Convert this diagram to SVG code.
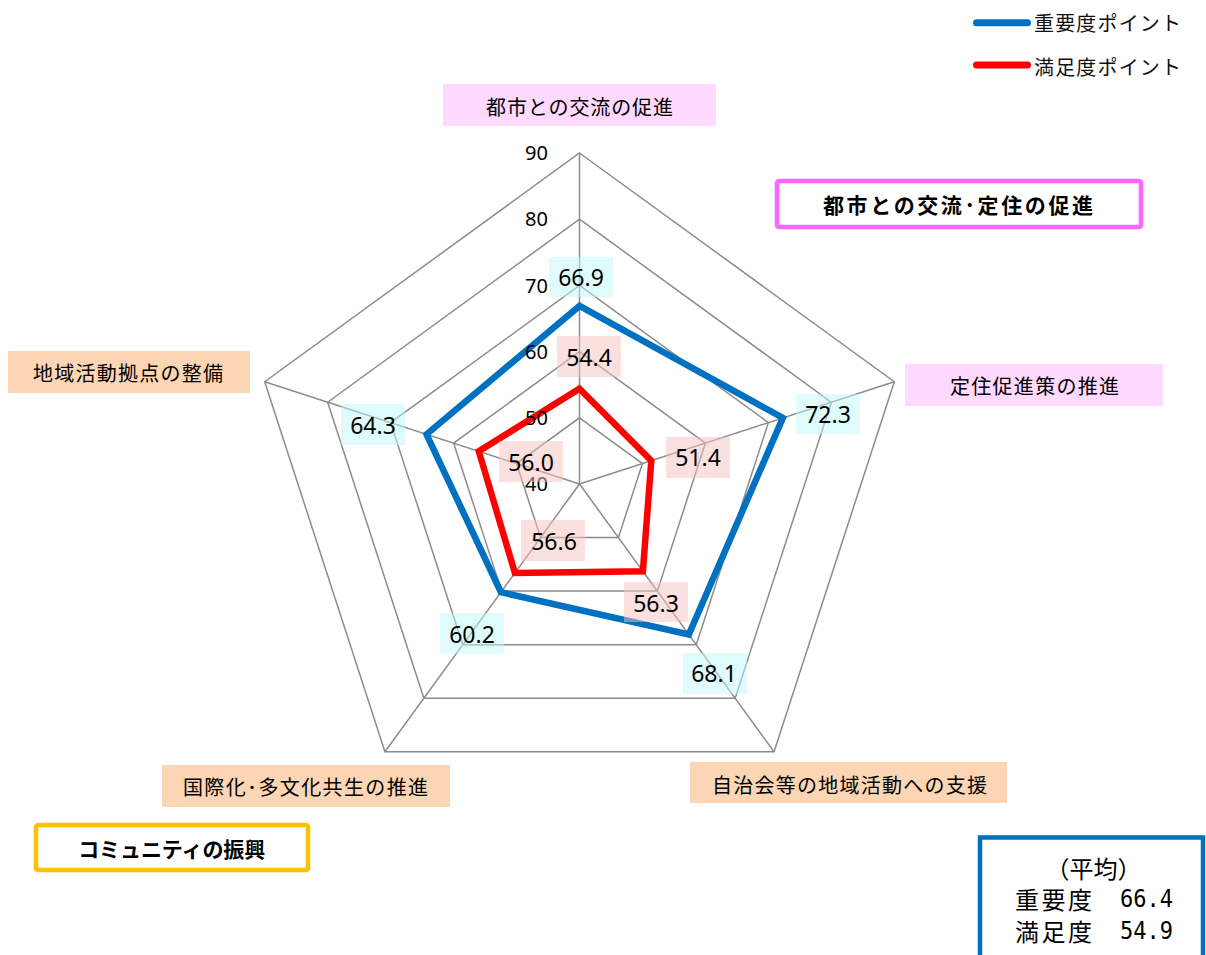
<svg xmlns="http://www.w3.org/2000/svg" width="1206" height="955" viewBox="0 0 1206 955">
<style>
.grid{fill:none;stroke:#8C8C8C;stroke-width:1.5}
.axis{stroke:#8C8C8C;stroke-width:1.5}
.tick{font-family:"Noto Sans","Open Sans",sans-serif;font-size:20px;fill:#000;text-anchor:end}
.val{font-family:"Noto Sans","Open Sans",sans-serif;font-size:23px;fill:#000;text-anchor:middle}
.vb{fill:#C0F8F8;fill-opacity:0.5}
.vr{fill:#F8C2C2;fill-opacity:0.5}
.cat{font-family:"Noto Sans CJK JP","Noto Sans",sans-serif;font-size:20px;fill:#000;text-anchor:middle;dominant-baseline:central}
.catbold{font-family:"Noto Sans CJK JP","Noto Sans",sans-serif;font-size:21px;font-weight:bold;fill:#000;text-anchor:middle;dominant-baseline:central}
.pinkfill{fill:#FFD9FF}
.peachfill{fill:#FCD5B4}
.leg{font-family:"Noto Sans CJK JP","Noto Sans",sans-serif;font-size:20px;fill:#111;dominant-baseline:central}
.avg{font-family:"Noto Sans CJK JP","Noto Sans",sans-serif;font-size:24px;fill:#000;dominant-baseline:central}
.avgnum{font-family:"DejaVu Sans Mono","Liberation Mono",monospace;font-size:25px;fill:#000}
</style>
<rect width="1206" height="955" fill="#fff"/>
<g id="connectors">
<g id="grid">
<polygon class="grid" points="579.5,417.8 642.46,463.54 618.41,537.56 540.59,537.56 516.54,463.54"/>
<polygon class="grid" points="579.5,351.6 705.42,443.09 657.32,591.11 501.68,591.11 453.58,443.09"/>
<polygon class="grid" points="579.5,285.4 768.38,422.63 696.24,644.67 462.76,644.67 390.62,422.63"/>
<polygon class="grid" points="579.5,219.2 831.34,402.17 735.15,698.23 423.85,698.23 327.66,402.17"/>
<polygon class="grid" points="579.5,153 894.3,381.71 774.06,751.79 384.94,751.79 264.7,381.71"/>
<line class="axis" x1="579.5" y1="484" x2="579.5" y2="153"/>
<line class="axis" x1="579.5" y1="484" x2="894.3" y2="381.71"/>
<line class="axis" x1="579.5" y1="484" x2="774.06" y2="751.79"/>
<line class="axis" x1="579.5" y1="484" x2="384.94" y2="751.79"/>
<line class="axis" x1="579.5" y1="484" x2="264.7" y2="381.71"/>
</g>
<g id="series">
<polygon fill="none" stroke="#0070C0" stroke-width="6.5" stroke-linejoin="miter" points="579.5,305.9 782.9,417.9 688.8,634.5 500.9,592.2 426.5,434.3"/>
<polygon fill="none" stroke="#FF0000" stroke-width="6.5" stroke-linejoin="miter" points="579.5,388.7 651.3,460.7 642.9,571.3 514.9,572.9 478.8,451.3"/>
</g>
</g>
<g id="ticks">
<text class="tick" x="548" y="160">90</text>
<text class="tick" x="548" y="226">80</text>
<text class="tick" x="548" y="293">70</text>
<text class="tick" x="548" y="359">60</text>
<text class="tick" x="548" y="425">50</text>
<text class="tick" x="548" y="491">40</text>
</g>
<g id="value-labels">
<rect class="vb" x="549" y="257" width="64" height="40"/>
<text class="val" x="581" y="286">66.9</text>
<rect class="vb" x="796" y="394" width="64" height="40"/>
<text class="val" x="828" y="423">72.3</text>
<rect class="vb" x="683" y="653" width="64" height="41"/>
<text class="val" x="714" y="682">68.1</text>
<rect class="vb" x="440" y="613" width="64" height="41"/>
<text class="val" x="472" y="643">60.2</text>
<rect class="vb" x="341" y="404" width="64" height="41"/>
<text class="val" x="373" y="434">64.3</text>
<rect class="vr" x="557" y="336" width="64" height="41"/>
<text class="val" x="589" y="366">54.4</text>
<rect class="vr" x="666" y="437" width="64" height="41"/>
<text class="val" x="698" y="466">51.4</text>
<rect class="vr" x="624" y="582" width="64" height="40"/>
<text class="val" x="656" y="612">56.3</text>
<rect class="vr" x="521" y="520" width="64" height="41"/>
<text class="val" x="554" y="550">56.6</text>
<rect class="vr" x="499" y="441" width="64" height="41"/>
<text class="val" x="531" y="471">56.0</text>
</g>
<g id="cat-top">
<rect class="pinkfill" x="443" y="84" width="273" height="42"/>
<text class="cat" x="579.5" y="106" textLength="187" lengthAdjust="spacing">都市との交流の促進</text>
</g>
<g id="cat-upper-right">
<rect class="pinkfill" x="905" y="364" width="258" height="42"/>
<text class="cat" x="1034.5" y="385" textLength="169" lengthAdjust="spacing">定住促進策の推進</text>
</g>
<g id="cat-lower-right">
<rect class="peachfill" x="690" y="762" width="317" height="41"/>
<text class="cat" x="849.5" y="784" textLength="275" lengthAdjust="spacing">自治会等の地域活動への支援</text>
</g>
<g id="cat-lower-left">
<rect class="peachfill" x="162" y="765" width="288" height="42"/>
<text class="cat" x="305.5" y="786.5" textLength="245" lengthAdjust="spacing">国際化･多文化共生の推進</text>
</g>
<g id="cat-left">
<rect class="peachfill" x="8" y="351" width="242" height="42"/>
<text class="cat" x="128" y="372.5" textLength="190" lengthAdjust="spacing">地域活動拠点の整備</text>
</g>
<g id="group-title-exchange">
<rect x="777" y="181" width="364" height="46" rx="2" fill="#fff" stroke="#FF66FF" stroke-width="4.5"/>
<text class="catbold" x="958" y="204" textLength="270" lengthAdjust="spacing">都市との交流･定住の促進</text>
</g>
<g id="group-title-community">
<rect x="36" y="825" width="272" height="45" rx="2" fill="#fff" stroke="#FFC000" stroke-width="4.5"/>
<text class="catbold" x="171.7" y="848" textLength="187" lengthAdjust="spacing">コミュニティの振興</text>
</g>
<g id="legend">
<line x1="976.5" y1="22.7" x2="1027.5" y2="22.7" stroke="#0070C0" stroke-width="7" stroke-linecap="round"/>
<text class="leg" x="1034" y="22" textLength="147" lengthAdjust="spacing">重要度ポイント</text>
<line x1="976.5" y1="65" x2="1027.5" y2="65" stroke="#FF0000" stroke-width="7" stroke-linecap="round"/>
<text class="leg" x="1034" y="66" textLength="147" lengthAdjust="spacing">満足度ポイント</text>
</g>
<g id="average-box">
<rect x="980" y="837.5" width="223" height="140" fill="#fff" stroke="#0070C0" stroke-width="4.5"/>
<text class="avg" x="1093.5" y="867" text-anchor="middle">（平均）</text>
<text class="avg" x="1015" y="898" textLength="77" lengthAdjust="spacing">重要度</text>
<text class="avgnum" x="1120" y="907" textLength="53" lengthAdjust="spacingAndGlyphs">66.4</text>
<text class="avg" x="1015" y="930" textLength="77" lengthAdjust="spacing">満足度</text>
<text class="avgnum" x="1120" y="939" textLength="53" lengthAdjust="spacingAndGlyphs">54.9</text>
</g>
</svg>
